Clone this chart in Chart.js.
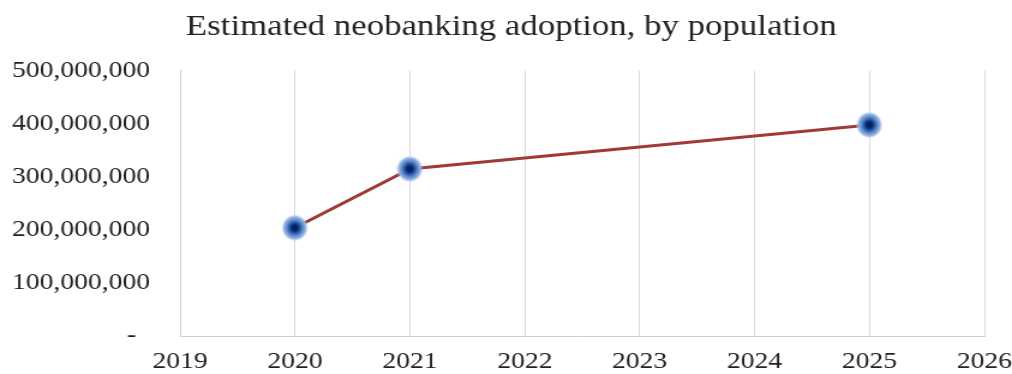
<!DOCTYPE html>
<html>
<head>
<meta charset="utf-8">
<script src="https://cdn.jsdelivr.net/npm/chart.js@4.4.1/dist/chart.umd.min.js"></script>
<style>
  html, body { margin:0; padding:0; background:#fff; overflow:hidden; }
  /* the original picture is stretched sideways, so the chart is drawn narrow and widened */
  #wrap { width:843px; height:374px; transform:scaleX(1.2005); transform-origin:0 0; }
</style>
</head>
<body>
<div id="wrap"><canvas id="adoptionChart"></canvas></div>
<script>
const titleText = "Estimated neobanking adoption, by population";
const years = [2020, 2021, 2025];
const users = [204000000, 315000000, 398000000];
const yTicks = [0, 100000000, 200000000, 300000000, 400000000, 500000000];
const xTicks = [2019, 2020, 2021, 2022, 2023, 2024, 2025, 2026];

const STRETCH = 1.2005;
const serif = "'Liberation Serif', 'Times New Roman', serif";

// glowing blue marker, drawn narrower so it ends up round after stretching
function makeMarker(){
    const r = 13;
    const c = document.createElement("canvas");
    c.width = Math.round(2*r/STRETCH);
    c.height = 2*r;
    const g = c.getContext("2d");
    g.scale(1/STRETCH, 1);
    const grad = g.createRadialGradient(r, r, 0, r, r, r);
    grad.addColorStop(0, "#021a55");
    grad.addColorStop(0.25, "#0a2a6e");
    grad.addColorStop(0.42, "#2a5aa8");
    grad.addColorStop(0.62, "#5f8ccc");
    grad.addColorStop(0.85, "#9ab8e3");
    grad.addColorStop(1, "rgba(180,200,240,0.15)");
    g.fillStyle = grad;
    g.beginPath();
    g.arc(r, r, r, 0, Math.PI*2);
    g.fill();
    return c;
}

// keep the layout from reserving room for overhanging labels
function noOverhang(scale){
    scale.paddingLeft = 0;
    scale.paddingRight = 0;
    scale.paddingTop = 0;
    scale.paddingBottom = 0;
}

const ctx = document.getElementById("adoptionChart").getContext("2d");

const chart = new Chart(ctx,{
    type:"line",
    data:{
        datasets:[
            {
                label:"Users",
                data: years.map((y,i)=>({x:y, y:users[i]})),
                borderColor:"#a03a37",
                borderWidth:3,
                tension:0,
                pointStyle: makeMarker(),
                pointRadius: 13,
                pointHoverRadius: 13
            }
        ]
    },
    options:{
        responsive:true,
        maintainAspectRatio:false,
        animation:false,
        layout:{ padding:{ left:10, right:23, top:0, bottom:0 } },
        plugins:{
            legend:{ display:false },
            tooltip:{ enabled:false },
            title:{
                display:true,
                // leading spaces nudge the centred title to the right like the original
                text:"   " + titleText,
                color:"#222",
                font:{ family:serif, size:29, weight:"normal" },
                padding:{ top:10, bottom:26 }
            }
        },
        scales:{
            x:{
                type:"linear",
                min:xTicks[0],
                max:xTicks[xTicks.length-1],
                afterBuildTicks: axis => { axis.ticks = xTicks.map(v=>({value:v})); },
                afterFit: axis => { noOverhang(axis); axis.height = 38; },
                grid:{ color:"#d9d9d9", lineWidth:1, drawTicks:false },
                border:{ color:"#cfcfcf", width:1 },
                ticks:{
                    color:"#222",
                    padding:14,
                    maxRotation:0,
                    font:{ family:serif, size:23, lineHeight:1 },
                    callback: v => String(v)
                }
            },
            y:{
                min:yTicks[0],
                max:yTicks[yTicks.length-1],
                afterBuildTicks: axis => { axis.ticks = yTicks.map(v=>({value:v})); },
                afterFit: axis => { noOverhang(axis); axis.width = 140; },
                grid:{ display:false, drawTicks:false },
                border:{ color:"#cfcfcf", width:1 },
                ticks:{
                    color:"#222",
                    padding:25,
                    font:{ family:serif, size:23 },
                    callback: v => v === 0 ? "-  " : v.toLocaleString("en-US")
                }
            }
        }
    }
});
</script>
</body>
</html>
